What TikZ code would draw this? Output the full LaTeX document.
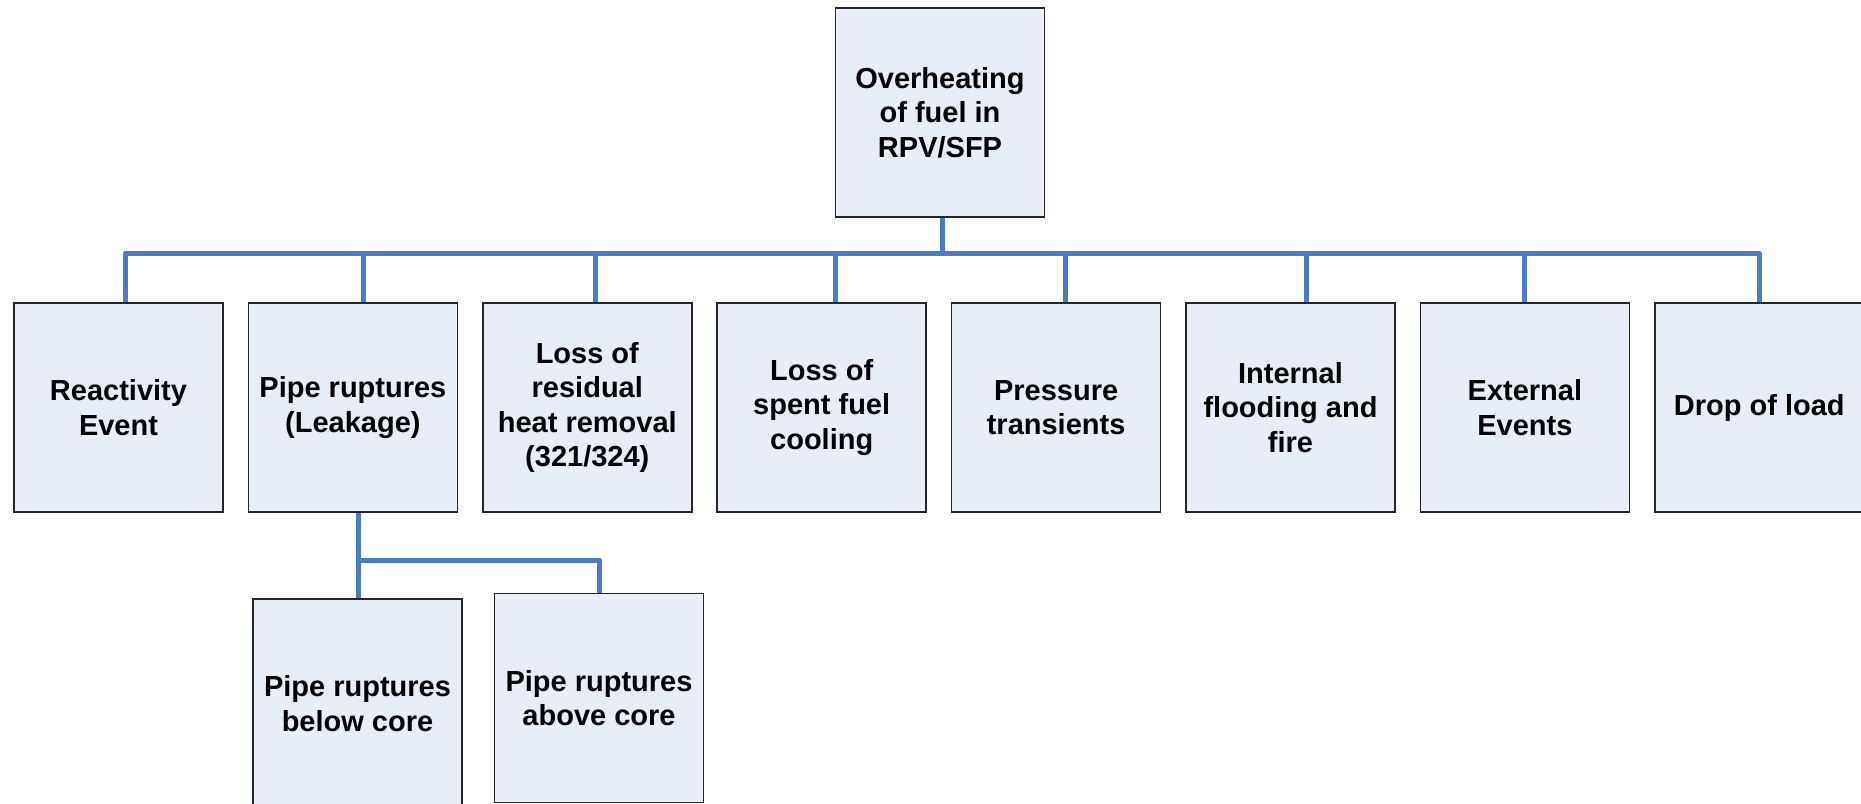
\documentclass[tikz,border=0pt]{standalone}
\usepackage{fontspec}
\setmainfont{Liberation Sans}
\usetikzlibrary{positioning}

\definecolor{boxfill}{HTML}{E8EEF8}
\definecolor{linkblue}{HTML}{4A7DC5}

\tikzset{
    eventbox/.style={draw=black!85, line width=0.75pt, fill=boxfill,
        minimum width=104.5pt, minimum height=104.5pt, align=center,
        font=\fontsize{14.5}{17.2}\selectfont\bfseries},
    link/.style={draw=linkblue, line width=2.5pt}
}

\begin{document}
\begin{tikzpicture}[x=0.5pt, y=0.5pt]
            \useasboundingbox (0,0) rectangle (1861,-803);
            \clip (0,0) rectangle (1861,-803);

            \node [eventbox] (top) at (940,-112.5) {Overheating\\of fuel in\\RPV/SFP};

            \node [eventbox] (react) at (118.5,-407.5) {Reactivity\\Event};
            \node [eventbox, right = 11.95pt of react] (pipe) {Pipe ruptures\\(Leakage)};
            \node [eventbox, right = 11.95pt of pipe] (heat) {Loss of\\residual\\heat removal\\(321/324)};
            \node [eventbox, right = 11.95pt of heat] (spent) {Loss of\\spent fuel\\cooling};
            \node [eventbox, right = 11.95pt of spent] (press) {Pressure\\transients};
            \node [eventbox, right = 11.95pt of press] (flood) {Internal\\flooding and\\fire};
            \node [eventbox, right = 11.95pt of flood] (ext) {External\\Events};
            \node [eventbox, right = 11.95pt of ext] (drop) {Drop of load};

            \node [eventbox] (below) at (357.5,-703.5) {Pipe ruptures\\below core};
            \node [eventbox] (above) at (599,-698) {Pipe ruptures\\above core};

            % first level
            \coordinate (bus) at (940,-253);
            \draw [link] ([xshift=1pt]top.south) -- ([xshift=1pt]top.south |- bus);
            \draw [link, line cap=round] ([xshift=3.5pt]react.north |- bus) -- (drop.north |- bus);
            \foreach \n/\dx in {react/3.5, pipe/5.5, heat/4, spent/7, press/4.5, flood/8, ext/0, drop/0}
                \draw [link] ([xshift=\dx pt]\n.north) -- ([xshift=\dx pt]\n.north |- bus);

            % second level
            \coordinate (subbus) at (358,-560);
            \draw [link] ([xshift=2.75pt]pipe.south) -- ([xshift=2.75pt]pipe.south |- below.north);
            \draw [link, line join=round] (subbus) -| (above.north);
\end{tikzpicture}
\end{document}
